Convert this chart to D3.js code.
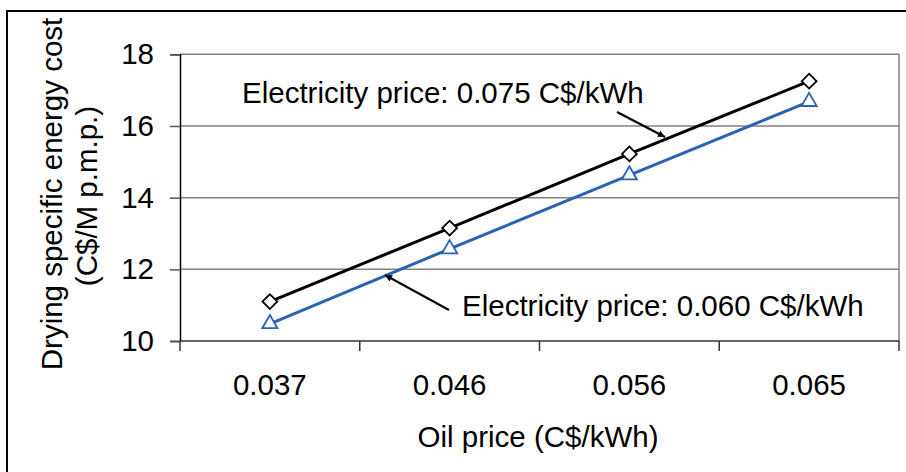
<!DOCTYPE html>
<html>
<head>
<meta charset="utf-8">
<script src="https://cdn.jsdelivr.net/npm/d3@7/dist/d3.min.js"></script>
<style>
html,body{margin:0;padding:0;background:#fff;}
svg{display:block;font-family:"Liberation Sans",Arial,sans-serif;}
</style>
</head>
<body>
<svg id="chart" width="906" height="472"></svg>
<script>
const categories = ["0.037", "0.046", "0.056", "0.065"];
const seriesHigh = [11.10, 13.15, 15.22, 17.25]; // Electricity 0.075
const seriesLow  = [10.48, 12.57, 14.63, 16.68]; // Electricity 0.060
const yTicks = [10, 12, 14, 16, 18];
const labelHigh = "Electricity price: 0.075 C$/kWh";
const labelLow = "Electricity price: 0.060 C$/kWh";
const xTitle = "Oil price (C$/kWh)";
const yTitle1 = "Drying specific energy cost";
const yTitle2 = "(C$/M p.m.p.)";

const svg = d3.select("#chart");
const L = 180, R = 899, T = 54.3, B = 341;
const x = d3.scaleBand().domain(categories).range([L, R]).padding(0);
const y = d3.scaleLinear().domain([10, 18]).range([B, T]);
const fs = 29.5;

// outer frame (clipped at right/bottom)
svg.append("rect").attr("x", 7).attr("y", 11).attr("width", 960).attr("height", 520)
  .attr("fill", "none").attr("stroke", "#000").attr("stroke-width", 2);

// gridlines
svg.append("g").selectAll("line").data(yTicks.filter(d => d !== 10)).join("line")
  .attr("x1", L).attr("x2", R).attr("y1", d => y(d)).attr("y2", d => y(d))
  .attr("stroke", "#808080").attr("stroke-width", 1.5);
// right border of plot
svg.append("line").attr("x1", R).attr("x2", R).attr("y1", T).attr("y2", B)
  .attr("stroke", "#808080").attr("stroke-width", 1.5);

// y axis
const yAxis = d3.axisLeft(y).tickValues(yTicks).tickSize(10).tickPadding(16).tickFormat(d3.format("d"));
const gy = svg.append("g").attr("transform", `translate(${L},0)`).call(yAxis);
gy.select(".domain").attr("stroke", "#000").attr("stroke-width", 1.5);
gy.selectAll(".tick line").attr("stroke", "#555").attr("stroke-width", 1.5);
gy.selectAll(".tick text").attr("font-size", fs).attr("fill", "#000")
  .attr("font-family", "Liberation Sans, Arial, sans-serif");

// x axis (category boundary ticks)
const gx = svg.append("g").attr("transform", `translate(0,${B})`);
gx.append("line").attr("x1", L).attr("x2", R).attr("stroke", "#333").attr("stroke-width", 1.5);
const bounds = categories.map(c => x(c)).concat([x(categories[categories.length-1]) + x.bandwidth()]);
gx.selectAll("line.tk").data(bounds).join("line").attr("class", "tk")
  .attr("x1", d => d).attr("x2", d => d).attr("y1", 0).attr("y2", 10)
  .attr("stroke", "#333").attr("stroke-width", 1.5);
gx.selectAll("text").data(categories).join("text")
  .attr("x", d => x(d) + x.bandwidth()/2).attr("y", 54)
  .attr("text-anchor", "middle").attr("font-size", fs).attr("fill", "#000").text(d => d);

// axis titles
svg.append("text").attr("x", 538).attr("y", 447).attr("text-anchor", "middle")
  .attr("font-size", fs).attr("fill", "#000").text(xTitle);
svg.append("text").attr("transform", "translate(62,194) rotate(-90)").attr("text-anchor", "middle")
  .attr("font-size", fs).attr("fill", "#000").text(yTitle1);
svg.append("text").attr("transform", "translate(97,196) rotate(-90)").attr("text-anchor", "middle")
  .attr("font-size", fs).attr("fill", "#000").text(yTitle2);

const cx = d => x(d) + x.bandwidth()/2;
const line = d3.line().x(d => cx(d.c)).y(d => y(d.v));
const hi = categories.map((c, i) => ({c, v: seriesHigh[i]}));
const lo = categories.map((c, i) => ({c, v: seriesLow[i]}));

// series lines
svg.append("path").datum(lo).attr("d", line).attr("fill", "none").attr("stroke", "#2a62b4").attr("stroke-width", 3);
svg.append("path").datum(hi).attr("d", line).attr("fill", "none").attr("stroke", "#000").attr("stroke-width", 3);

// markers
svg.append("g").selectAll("path").data(lo).join("path")
  .attr("d", d3.symbol().type(d3.symbolTriangle).size(100))
  .attr("transform", d => `translate(${cx(d.c)},${y(d.v)})`)
  .attr("fill", "#fff").attr("stroke", "#2a62b4").attr("stroke-width", 1.8);
svg.append("g").selectAll("path").data(hi).join("path")
  .attr("d", d3.symbol().type(d3.symbolSquare).size(110))
  .attr("transform", d => `translate(${cx(d.c)},${y(d.v)}) rotate(45)`)
  .attr("fill", "#fff").attr("stroke", "#000").attr("stroke-width", 1.8);

// annotations
svg.append("defs").append("marker").attr("id", "ah").attr("viewBox", "0 0 10 10")
  .attr("refX", 10).attr("refY", 5).attr("markerWidth", 9).attr("markerHeight", 7)
  .attr("markerUnits", "userSpaceOnUse").attr("orient", "auto")
  .append("path").attr("d", "M0,0 L10,5 L0,10 Z").attr("fill", "#000");
svg.append("line").attr("x1", 617).attr("y1", 112).attr("x2", 665).attr("y2", 137)
  .attr("stroke", "#000").attr("stroke-width", 2).attr("marker-end", "url(#ah)");
svg.append("line").attr("x1", 449).attr("y1", 310).attr("x2", 385).attr("y2", 275)
  .attr("stroke", "#000").attr("stroke-width", 2).attr("marker-end", "url(#ah)");
svg.append("text").attr("x", 242).attr("y", 103).attr("font-size", fs).attr("fill", "#000").text(labelHigh);
svg.append("text").attr("x", 462).attr("y", 316).attr("font-size", fs).attr("fill", "#000").text(labelLow);
</script>
</body>
</html>
